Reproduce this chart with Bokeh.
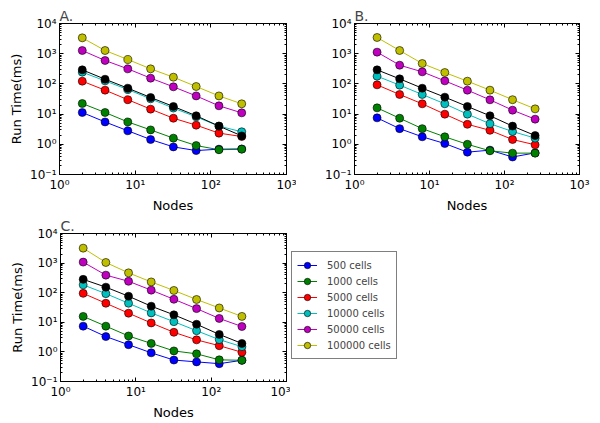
from bokeh.plotting import figure
from bokeh.models import (FixedTicker, LogAxis, CustomJSTickFormatter, Legend,
                          LegendItem, ColumnDataSource)
from bokeh.layouts import column, row
from bokeh.embed import file_html
from bokeh.resources import INLINE

nodes = [2, 4, 8, 16, 32, 64, 128, 256]
series_names = ["500 cells", "1000 cells", "5000 cells", "10000 cells",
                "20000 cells", "50000 cells", "100000 cells"]
in_legend = [True, True, True, True, False, True, True]
colors = ["#0000ff", "#008000", "#ff0000", "#00bfbf", "#000000", "#bf00bf", "#bfbf00"]

# Panel A
a_500 = [11.3, 5.5, 2.8, 1.44, 0.82, 0.62, 0.69, 0.70]
a_1000 = [22.4, 11.3, 5.5, 3.0, 1.6, 0.91, 0.66, 0.69]
a_5000 = [123, 62, 30, 14.6, 7.3, 4.3, 2.34, 1.81]
a_10000 = [245, 126, 65, 32, 15.8, 8.1, 4.0, 2.6]
a_20000 = [292, 143, 72, 35.5, 17.9, 8.8, 4.0, 1.9]
a_50000 = [1276, 596, 315, 155, 80, 40, 18.8, 11]
a_100000 = [3350, 1276, 643, 315, 167, 82, 40, 21.9]

# Panel B
b_500 = [7.5, 3.3, 1.77, 1.06, 0.55, 0.64, 0.38, 0.52]
b_1000 = [16.1, 7.3, 3.3, 1.77, 1.0, 0.61, 0.51, 0.51]
b_5000 = [93, 44.6, 21.9, 9.95, 4.6, 2.9, 1.44, 0.96]
b_10000 = [180, 91, 44.6, 21.9, 9.95, 4.8, 2.65, 1.6]
b_20000 = [292, 147, 72, 36.4, 17.9, 8.8, 4.0, 1.95]
b_50000 = [1125, 417, 251, 126, 62, 29.7, 13.5, 6.8]
b_100000 = [3440, 1276, 473, 238, 123, 62, 30, 14.9]

# Panel C
c_500 = [7.4, 3.3, 1.75, 0.93, 0.53, 0.46, 0.40, 0.52]
c_1000 = [15.8, 7.4, 3.45, 1.93, 1.08, 0.86, 0.54, 0.52]
c_5000 = [95, 44, 20.3, 9.5, 4.6, 2.55, 1.62, 0.97]
c_10000 = [184, 93, 44, 20.8, 10.5, 5.2, 2.6, 1.5]
c_20000 = [282, 154, 76, 35, 17.9, 8.6, 3.9, 1.93]
c_50000 = [1080, 392, 243, 122, 60, 29, 13.5, 7.2]
c_100000 = [3200, 1050, 468, 231, 119, 59, 30.5, 15.8]

x_ticks = [1, 10, 100, 1000]
y_ticks = [0.1, 1, 10, 100, 1000, 10000]

FONT = "DejaVu Sans"

SUP_CODE = """
const s = {"-":"\\u207b","0":"\\u2070","1":"\\u00b9","2":"\\u00b2","3":"\\u00b3",
           "4":"\\u2074","5":"\\u2075","6":"\\u2076","7":"\\u2077","8":"\\u2078","9":"\\u2079"};
const e = Math.round(Math.log10(tick));
return "10" + String(e).split("").map(c => s[c]).join("");
"""


def minor_for(ticks):
    out = []
    for t in ticks[:-1]:
        out += [t * m for m in range(2, 10)]
    return out


def style_axis(ax, show_labels):
    ax.major_tick_in = 4
    ax.major_tick_out = 0
    ax.minor_tick_in = 2
    ax.minor_tick_out = 0
    ax.axis_line_color = "black"
    ax.major_tick_line_color = "black"
    ax.minor_tick_line_color = "black"
    if show_labels:
        ax.major_label_text_font = FONT
        ax.major_label_text_font_size = "12px"
        ax.major_label_text_color = "black"
        ax.major_label_standoff = 3
        ax.axis_label_text_font = FONT
        ax.axis_label_text_font_size = "13px"
        ax.axis_label_text_font_style = "normal"
        ax.axis_label_text_color = "black"
        ax.axis_label_standoff = 3
    else:
        ax.major_label_text_font_size = "1px"
        ax.major_label_text_alpha = 0
        ax.major_label_standoff = 0


def make_panel(data, letter, width, height, bl, br, bt, bb, ylabel):
    p = figure(width=width, height=height, x_axis_type="log", y_axis_type="log",
               x_range=(1, 1000), y_range=(0.1, 1e4), output_backend="svg",
               toolbar_location=None, min_border_left=bl, min_border_right=br,
               min_border_top=bt, min_border_bottom=bb, title=letter)
    p.title.text_font = FONT
    p.title.text_font_size = "14px"
    p.title.text_font_style = "normal"
    p.title.align = "left"
    p.title.offset = 0
    p.title.standoff = 0
    p.grid.visible = False
    p.outline_line_color = "black"
    p.outline_line_width = 1

    p.xaxis[0].ticker = FixedTicker(ticks=x_ticks, minor_ticks=minor_for(x_ticks))
    p.xaxis[0].formatter = CustomJSTickFormatter(code=SUP_CODE)
    p.xaxis[0].axis_label = "Nodes"
    style_axis(p.xaxis[0], True)
    p.yaxis[0].ticker = FixedTicker(ticks=y_ticks, minor_ticks=minor_for(y_ticks))
    p.yaxis[0].formatter = CustomJSTickFormatter(code=SUP_CODE)
    if ylabel:
        p.yaxis[0].axis_label = "Run Time(ms)"
    style_axis(p.yaxis[0], True)

    top = LogAxis(ticker=FixedTicker(ticks=x_ticks, minor_ticks=minor_for(x_ticks)))
    style_axis(top, False)
    p.add_layout(top, "above")
    right = LogAxis(ticker=FixedTicker(ticks=y_ticks, minor_ticks=minor_for(y_ticks)))
    style_axis(right, False)
    p.add_layout(right, "right")

    for name, col, vals in zip(series_names, colors, data):
        src = ColumnDataSource(dict(x=nodes, y=vals))
        p.line("x", "y", source=src, line_color=col, line_width=1)
        p.scatter("x", "y", source=src, size=8, fill_color=col,
                  line_color="black", line_width=0.6)
    return p


pa = make_panel([a_500, a_1000, a_5000, a_10000, a_20000, a_50000, a_100000], "A.",
                296, 215, 59, 10, 23, 40, True)
pb = make_panel([b_500, b_1000, b_5000, b_10000, b_20000, b_50000, b_100000], "B.",
                295, 215, 58, 12, 23, 40, False)
pc = make_panel([c_500, c_1000, c_5000, c_10000, c_20000, c_50000, c_100000], "C.",
                290, 207, 60, 4, 17, 40, True)

# legend-only panel: the series are plotted outside its visible range,
# so only the legend entries show
pl = figure(width=112, height=207, output_backend="svg", toolbar_location=None,
            min_border_left=1, min_border_right=0, min_border_top=0,
            min_border_bottom=0, x_range=(-2, -1), y_range=(-2, -1))
pl.axis.visible = False
pl.grid.visible = False
pl.outline_line_color = None
items = []
c_data = [c_500, c_1000, c_5000, c_10000, c_20000, c_50000, c_100000]
for name, col, vals, inleg in zip(series_names, colors, c_data, in_legend):
    if not inleg:
        continue
    src = ColumnDataSource(dict(x=nodes, y=vals))
    lr = pl.line("x", "y", source=src, line_color=col, line_width=1)
    sr = pl.scatter("x", "y", source=src, size=8, fill_color=col,
                    line_color="black", line_width=0.6)
    items.append(LegendItem(label=name, renderers=[lr, sr]))
leg = Legend(items=items, location=(0, 22),
             label_text_font=FONT, label_text_font_size="10px",
             glyph_width=20, glyph_height=16, label_height=16,
             label_standoff=10, padding=5, spacing=0,
             border_line_color="black", border_line_width=1, margin=0)
pl.add_layout(leg)

layout = column(row(pa, pb), row(pc, pl))
open("out.html", "w").write(file_html(layout, INLINE))
